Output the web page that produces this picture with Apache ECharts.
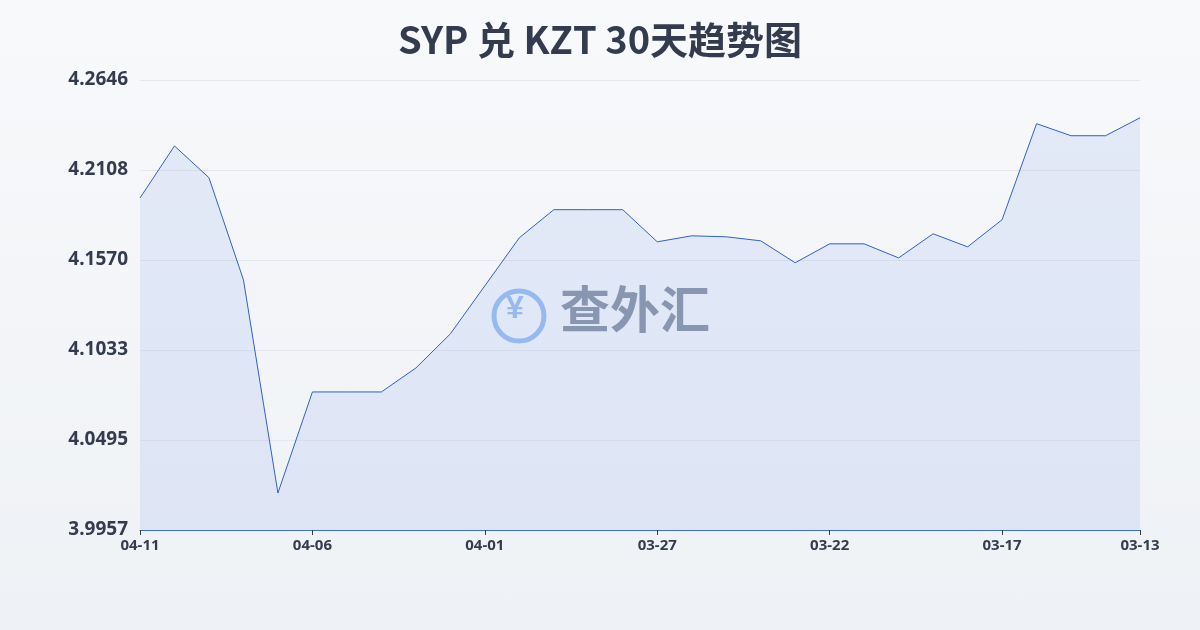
<!DOCTYPE html>
<html><head><meta charset="utf-8">
<script src="https://cdn.jsdelivr.net/npm/echarts@6/dist/echarts.min.js"></script>
<style>html,body{margin:0;padding:0;}#c{width:1200px;height:630px;background:linear-gradient(180deg,#f8f9fb,#eef1f5);}</style>
</head><body><div id="c"></div>
<script>
const categories = ["04-11","04-10","04-09","04-08","04-07","04-06","04-05","04-04","04-03","04-02","04-01","03-31","03-30","03-29","03-28","03-27","03-26","03-25","03-24","03-23","03-22","03-21","03-20","03-19","03-18","03-17","03-16","03-15","03-14","03-13"];
const values = [4.1941,4.2252,4.2062,4.1452,4.0178,4.0782,4.0782,4.0782,4.0925,4.1129,4.1416,4.1703,4.1871,4.1871,4.1871,4.1679,4.1715,4.1709,4.1685,4.1554,4.1667,4.1667,4.1583,4.1727,4.1649,4.1811,4.2385,4.2313,4.2313,4.2420];
const yMin = 3.9957, yMax = 4.2646;
const chart = echarts.init(document.getElementById('c'));
chart.setOption({
  textStyle:{fontFamily:'Noto Sans'},
  title:{text:'SYP 兑 KZT 30天趋势图',left:'center',top:16,textStyle:{fontSize:38,fontWeight:'bold',color:'#333c4e',fontFamily:'Noto Sans CJK SC'}},
  grid:{left:140,right:60,top:80,bottom:100},
  xAxis:{type:'category',data:categories,boundaryGap:false,
    axisLine:{lineStyle:{color:'#3d6fd1'}},axisTick:{show:true,length:5,interval:(i)=>i%5===0||i===29,lineStyle:{color:'#333c4e'}},
    axisLabel:{interval:(i)=>i%5===0||i===29,color:'#333c4e',fontSize:15,fontWeight:'bold',margin:8,fontFamily:'Noto Sans'}},
  yAxis:{type:'value',min:yMin,max:yMax,interval:(yMax-yMin)/5,
    axisLine:{show:false},axisTick:{show:false},
    splitLine:{lineStyle:{color:'#e3e7ee'}},
    axisLabel:{formatter:v=>v.toFixed(4),color:'#333c4e',fontSize:19,fontWeight:'bold',margin:12,align:'right',fontFamily:'Noto Sans'}},
  graphic:[
    {type:'circle',shape:{cx:519,cy:316,r:25},style:{fill:'none',stroke:'#9cc0f0',lineWidth:5}},
    {type:'text',left:506,top:293,style:{text:'¥',fontSize:32,fontWeight:'bold',fill:'#9cc0f0'}},
    {type:'text',left:560,top:284,style:{text:'查外汇',fontSize:50,fontWeight:'bold',fill:'#8d97a8',fontFamily:'Noto Sans CJK SC'}}
  ],
  series:[{type:'line',data:values,symbol:'none',smooth:false,
    lineStyle:{color:'#2f5fc8',width:1},
    areaStyle:{color:'rgba(110,150,235,0.2)'}}]
});
</script></body></html>
